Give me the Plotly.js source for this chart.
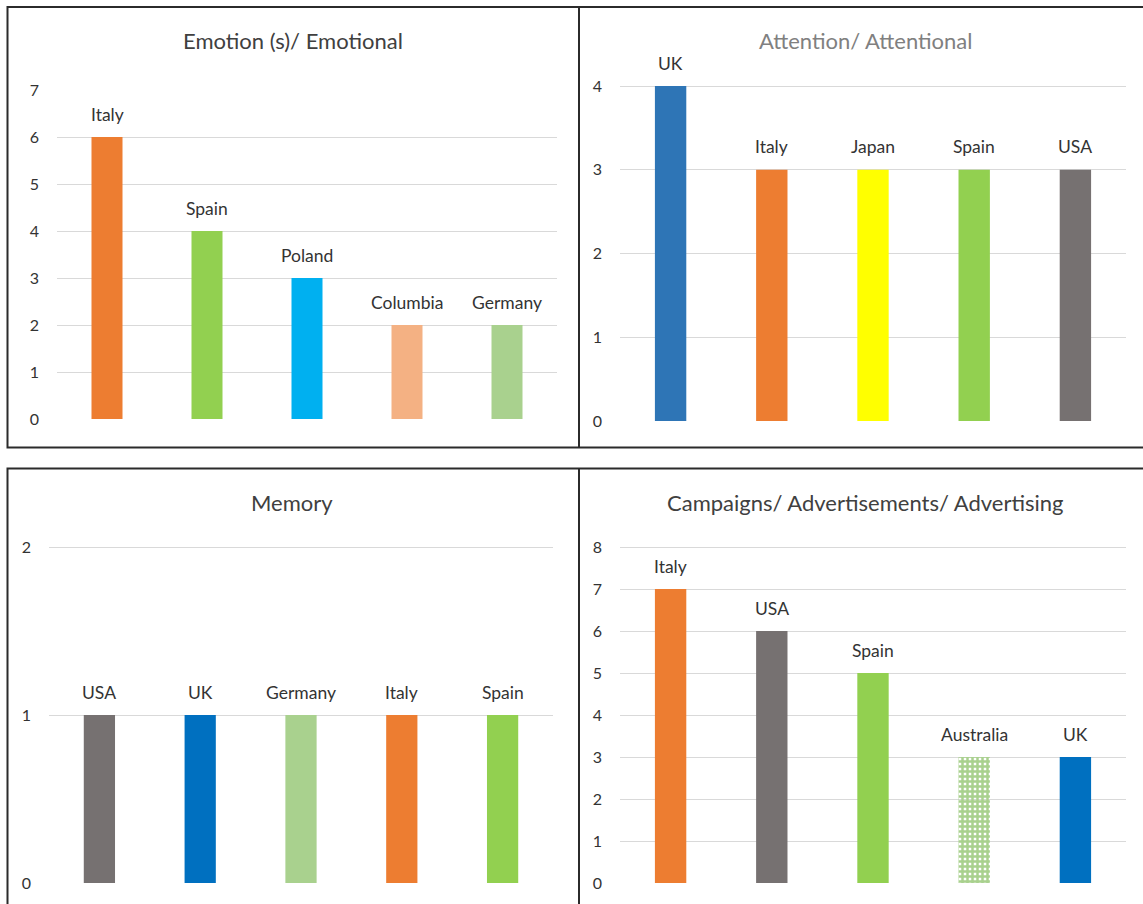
<!DOCTYPE html>
<html>
<head>
<meta charset="utf-8">
<script src="https://cdn.plot.ly/plotly-3.0.1.min.js"></script>
<style>
  html, body { margin: 0; padding: 0; background: #ffffff; }
  #chart { width: 1143px; height: 904px; }
</style>
</head>
<body>
<div id="chart"></div>
<script>
// ---- Data ----
const emotionTitle = 'Emotion (s)/ Emotional';
const emotionCats = ['Italy', 'Spain', 'Poland', 'Columbia', 'Germany'];
const emotionVals = [6, 4, 3, 2, 2];
const emotionColors = ['#ED7D31', '#92D050', '#00B0F0', '#F4B183', '#A9D18E'];

const attentionTitle = 'Attention/ Attentional';
const attentionCats = ['UK', 'Italy', 'Japan', 'Spain', 'USA'];
const attentionVals = [4, 3, 3, 3, 3];
const attentionColors = ['#2E75B6', '#ED7D31', '#FFFF00', '#92D050', '#767171'];

const memoryTitle = 'Memory';
const memoryCats = ['USA', 'UK', 'Germany', 'Italy', 'Spain'];
const memoryVals = [1, 1, 1, 1, 1];
const memoryColors = ['#767171', '#0070C0', '#A9D18E', '#ED7D31', '#92D050'];

const campaignTitle = 'Campaigns/ Advertisements/ Advertising';
const campaignCats = ['Italy', 'USA', 'Spain', 'Australia', 'UK'];
const campaignVals = [7, 6, 5, 3, 3];
const campaignColors = ['#ED7D31', '#767171', '#92D050', '#A9D18E', '#0070C0'];
const patternedCats = ['Australia'];

// ---- Layout helpers ----
const W = 1143, H = 904;
const FONT = 'Lato, Carlito, Calibri, "Open Sans", sans-serif';
const px = v => v / W;
const py = v => 1 - v / H;

const panels = [
  { title: emotionTitle, titleColor: '#404040', cats: emotionCats, vals: emotionVals, colors: emotionColors,
    x0: 57, x1: 557, yBottom: 419, yTop: 90, max: 7, topGrid: false, titleX: 293, titleY: 41, patterned: false },
  { title: attentionTitle, titleColor: '#808080', cats: attentionCats, vals: attentionVals, colors: attentionColors,
    x0: 620, x1: 1126, yBottom: 421, yTop: 86, max: 4, topGrid: true, titleX: 865, titleY: 41, patterned: false },
  { title: memoryTitle, titleColor: '#404040', cats: memoryCats, vals: memoryVals, colors: memoryColors,
    x0: 49, x1: 553, yBottom: 883, yTop: 547, max: 2, topGrid: true, titleX: 292, titleY: 503, patterned: false },
  { title: campaignTitle, titleColor: '#404040', cats: campaignCats, vals: campaignVals, colors: campaignColors,
    x0: 620, x1: 1126, yBottom: 883, yTop: 547, max: 8, topGrid: true, titleX: 865, titleY: 503, patterned: true }
];

const data = [];
const layout = {
  width: W, height: H,
  margin: { l: 0, r: 0, t: 0, b: 0 },
  paper_bgcolor: '#ffffff', plot_bgcolor: 'rgba(0,0,0,0)',
  showlegend: false,
  bargap: 0.69,
  font: { family: FONT, color: '#404040', size: 14 },
  annotations: [],
  shapes: []
};

panels.forEach((p, i) => {
  const n = i === 0 ? '' : String(i + 1);
  const xa = 'x' + n, ya = 'y' + n;
  const shapes = p.cats.map(c => (p.patterned && patternedCats.includes(c)) ? '+' : '');
  data.push({
    type: 'bar',
    x: p.cats, y: p.vals,
    xaxis: xa, yaxis: ya,
    marker: {
      color: p.colors, line: { width: 0 },
      pattern: { shape: shapes, fillmode: 'replace', size: 5, solidity: 0.75 }
    },
    hoverinfo: 'skip'
  });
  // extend the range by a few pixels so the top gridline is drawn (not clipped at the edge)
  const pxPerUnit = (p.yBottom - p.yTop) / p.max;
  const extraPx = p.topGrid ? 3 : 0;
  layout['xaxis' + n] = {
    domain: [px(p.x0), px(p.x1)],
    anchor: ya,
    showticklabels: false, showgrid: false, zeroline: false, showline: false, ticks: '',
    fixedrange: true
  };
  layout['yaxis' + n] = {
    domain: [py(p.yBottom), py(p.yTop - extraPx)],
    anchor: xa,
    range: [0, p.max + extraPx / pxPerUnit], dtick: 1, tick0: 0,
    showgrid: true, gridcolor: '#D9D9D9', gridwidth: 1,
    zeroline: false, showline: false, ticks: '',
    ticklabelstandoff: 17,
    tickfont: { family: FONT, size: 16, color: '#333333' },
    fixedrange: true
  };
  p.cats.forEach((c, k) => {
    layout.annotations.push({
      xref: xa, yref: ya, x: c, y: p.vals[k], text: c,
      showarrow: false, yanchor: 'middle', yshift: 23,
      font: { family: FONT, size: 17.5, color: '#333333' }
    });
  });
  layout.annotations.push({
    xref: 'paper', yref: 'paper', x: px(p.titleX), y: py(p.titleY),
    text: p.title, showarrow: false, xanchor: 'center', yanchor: 'middle',
    font: { family: FONT, size: 22, color: p.titleColor }
  });
});

// Panel borders
const border = { color: '#2b2b2b', width: 2 };
layout.shapes.push(
  { type: 'rect', xref: 'paper', yref: 'paper', x0: px(7.5), x1: px(1150), y0: py(447.5), y1: py(7), line: border },
  { type: 'line', xref: 'paper', yref: 'paper', x0: px(579), x1: px(579), y0: py(447.5), y1: py(7), line: border },
  { type: 'rect', xref: 'paper', yref: 'paper', x0: px(7.5), x1: px(1150), y0: py(915), y1: py(468.5), line: border },
  { type: 'line', xref: 'paper', yref: 'paper', x0: px(579), x1: px(579), y0: py(915), y1: py(468.5), line: border }
);

Plotly.newPlot('chart', data, layout, { staticPlot: true, displayModeBar: false });
</script>
</body>
</html>
